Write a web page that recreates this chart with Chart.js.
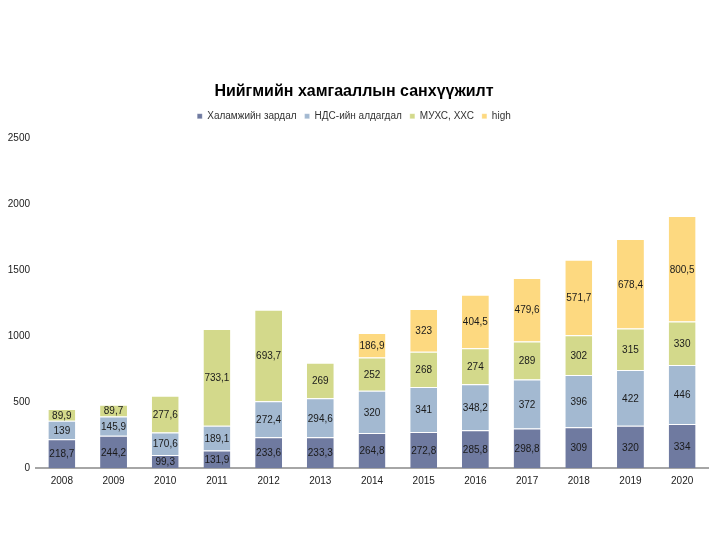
<!DOCTYPE html>
<html>
<head>
<meta charset="utf-8">
<script src="https://cdn.jsdelivr.net/npm/chart.js@4"></script>
<style>
html,body{margin:0;padding:0;background:#fff;}
#wrap{width:720px;height:540px;}
</style>
</head>
<body>
<div id="wrap"><canvas id="c" width="720" height="540"></canvas></div>
<script>
const categories = ['2008','2009','2010','2011','2012','2013','2014','2015','2016','2017','2018','2019','2020'];
const welfare = [218.7, 244.2, 99.3, 131.9, 233.6, 233.3, 264.8, 272.8, 285.8, 298.8, 309, 320, 334];
const ndsDeficit = [139, 145.9, 170.6, 189.1, 272.4, 294.6, 320, 341, 348.2, 372, 396, 422, 446];
const muhs = [89.9, 89.7, 277.6, 733.1, 693.7, 269, 252, 268, 274, 289, 302, 315, 330];
const high = [null, null, null, null, null, null, 186.9, 323, 404.5, 479.6, 571.7, 678.4, 800.5];
const seriesNames = ['Халамжийн зардал', 'НДС-ийн алдагдал', 'МУХС, ХХС', 'high'];
const yTicks = [0, 500, 1000, 1500, 2000, 2500];

const colors = ['#6f7aa0', '#a3b9d1', '#d3d98b', '#fdd980'];
const FONT = '"Liberation Sans", Arial, sans-serif';

const labelPlugin = {
  id: 'segLabels',
  afterInit(chart) {
    const lg = chart.legend;
    if (lg && !lg._patched) {
      const orig = lg.fit.bind(lg);
      lg.fit = function () { orig(); this.height += 7; };
      lg._patched = true;
    }
  },
  afterDatasetsDraw(chart) {
    const ctx = chart.ctx;
    ctx.save();
    ctx.font = '10px ' + FONT;
    ctx.fillStyle = '#1a1a1a';
    ctx.textAlign = 'center';
    ctx.textBaseline = 'middle';
    chart.data.datasets.forEach((ds, i) => {
      const meta = chart.getDatasetMeta(i);
      if (meta.hidden) return;
      meta.data.forEach((el, j) => {
        const v = ds.data[j];
        if (v === null || v === undefined) return;
        const p = el.getProps(['x', 'y', 'base'], true);
        const txt = String(v).replace('.', ',');
        ctx.fillText(txt, p.x, (p.y + p.base) / 2 + 1);
      });
    });
    ctx.restore();
  }
};

const dataArrays = [welfare, ndsDeficit, muhs, high];
new Chart(document.getElementById('c'), {
  type: 'bar',
  data: {
    labels: categories,
    datasets: dataArrays.map((d, i) => ({
      label: seriesNames[i],
      data: d,
      backgroundColor: colors[i],
      borderColor: '#ffffff',
      borderWidth: {top: 1, left: 0, right: 0, bottom: 0},
      borderSkipped: false,
      categoryPercentage: 1.0,
      barPercentage: 0.52
    }))
  },
  options: {
    responsive: false,
    animation: false,
    devicePixelRatio: 1,
    layout: {padding: {top: 82, left: 0, right: 12, bottom: 46}},
    plugins: {
      title: {
        display: true,
        text: 'Нийгмийн хамгааллын санхүүжилт',
        color: '#000',
        font: {family: FONT, size: 16, weight: 'bold'},
        padding: {top: 0, bottom: 2}
      },
      legend: {
        display: true,
        labels: {
          boxWidth: 5, boxHeight: 5,
          color: '#333',
          font: {family: FONT, size: 10},
          padding: 8
        }
      },
      tooltip: {enabled: false}
    },
    scales: {
      x: {
        stacked: true,
        grid: {display: false, drawTicks: false},
        border: {display: true, color: '#a6a6a6', width: 2},
        ticks: {color: '#1a1a1a', font: {family: FONT, size: 10}, padding: 7, maxRotation: 0}
      },
      y: {
        stacked: true,
        min: 0, max: 2500,
        afterBuildTicks(scale) { scale.ticks = yTicks.map(v => ({value: v})); },
        afterFit(scale) { scale.width = 36; },
        grid: {display: false, drawTicks: false},
        border: {display: false},
        ticks: {color: '#1a1a1a', font: {family: FONT, size: 10}, padding: 6, callback: v => String(v)}
      }
    }
  },
  plugins: [labelPlugin]
});
</script>
</body>
</html>
